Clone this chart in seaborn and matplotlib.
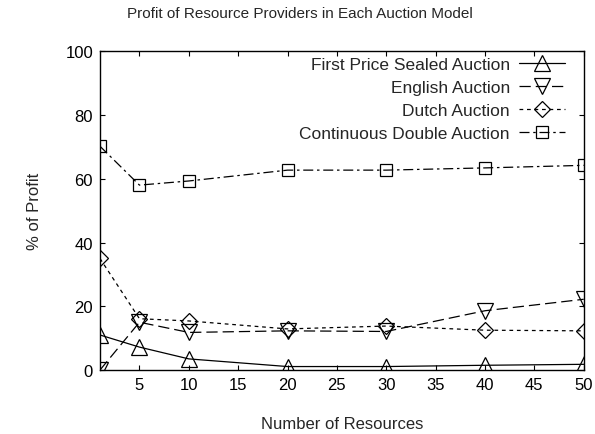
import matplotlib
matplotlib.use("Agg")
import matplotlib.pyplot as plt
import seaborn as sb
import pandas as pd

# Données
resources = [1, 5, 10, 20, 30, 40, 50]
first_price = [11, 7.2, 3.5, 1.1, 1.1, 1.5, 1.8]
english = [0, 15, 11.8, 12.3, 12.1, 18.6, 22.2]
dutch = [35.0, 16.1, 15.4, 12.9, 13.8, 12.5, 12.3]
double = [70.2, 58.0, 59.3, 62.7, 62.7, 63.4, 64.2]

names = ["First Price Sealed Auction", "English Auction",
         "Dutch Auction", "Continuous Double Auction"]
series = [first_price, english, dutch, double]
markers = ["^", "v", "D", "s"]
sizes = [11, 11, 8, 9]
dashes = [None, (9, 4), (3, 3), (8, 3, 2, 3)]

sb.set_style("ticks")
plt.rcParams['font.family'] = ['Liberation Sans', 'DejaVu Sans']

fig = plt.figure(figsize=(5.95, 4.35), dpi=100)
ax = fig.add_axes([0.168, 0.147, 0.813, 0.733])

for name, vals, m, ms, d in zip(names, series, markers, sizes, dashes):
    df = pd.DataFrame({"x": resources, "y": vals})
    sb.lineplot(data=df, x="x", y="y", ax=ax, color="black",
                marker=m, markersize=ms, markerfacecolor="none",
                markeredgecolor="black", markeredgewidth=0.9,
                linewidth=0.9, label=name)
    if d is not None:
        ax.lines[-1].set_dashes(d)

ax.set_xlim(1, 50)
ax.set_ylim(0, 100)
ax.set_xticks(range(5, 51, 5))
ax.set_yticks(range(0, 101, 20))
ax.tick_params(direction="in", top=True, right=True, length=3.5, width=0.8,
               labelsize=12, colors="black", pad=5)
for s in ax.spines.values():
    s.set_linewidth(1.0)
    s.set_color("black")
ax.set_xlabel("Number of Resources", fontsize=12, labelpad=17)
ax.set_ylabel("% of Profit", fontsize=12, labelpad=17)
fig.suptitle("Profit of Resource Providers in Each Auction Model",
             fontsize=11, x=0.504, y=0.985)

leg = ax.legend(loc="upper right", markerfirst=False, frameon=False,
                fontsize=12.5, handlelength=2.65, handletextpad=0.5,
                labelspacing=0.44, borderaxespad=0,
                bbox_to_anchor=(0.975, 1.003))
for t in leg.get_texts():
    t.set_ha("right")
leg._legend_box.align = "right"

fig.savefig("out.png", dpi=100)
